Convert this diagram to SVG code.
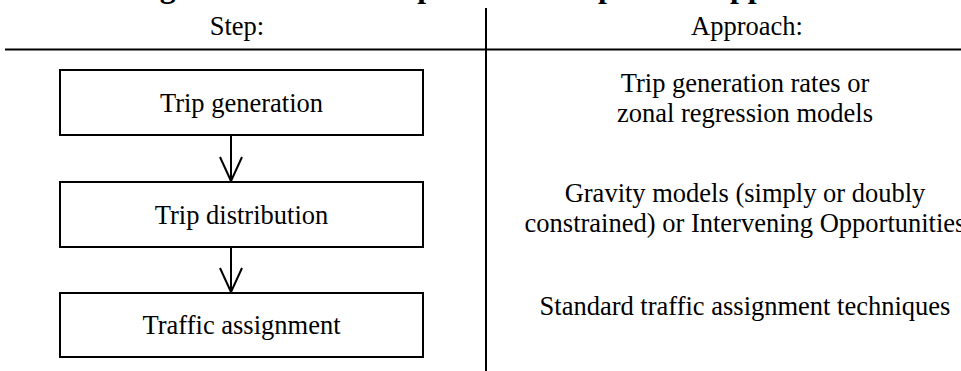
<svg xmlns="http://www.w3.org/2000/svg" width="961" height="371" viewBox="0 0 961 371">
<style>
text{font-family:"Liberation Serif","Times New Roman",serif;font-size:26.5px;fill:#000}
.title{font-weight:bold;font-size:31.7px}
.c{text-anchor:middle}
.box{fill:#fff;stroke:#000;stroke-width:2}
.rule{stroke:#000;stroke-width:2;fill:none}
.conn{stroke:#000;stroke-width:2;fill:none}
</style>
<defs>
<marker id="vhead" markerUnits="userSpaceOnUse" markerWidth="26" markerHeight="26" refX="24" refY="11" orient="auto" overflow="visible">
<path d="M0,0 L24,11 L0,22" fill="none" stroke="#000" stroke-width="2"/>
</marker>
</defs>
<rect width="961" height="371" fill="#fff"/>
<text class="title" x="131.6" y="-3">Figure 2.1: The transport three step model approach</text>
<g id="frame">
<line class="rule" x1="5" y1="49.5" x2="961" y2="49.5"/>
<line class="rule" x1="486" y1="8" x2="486" y2="371"/>
<text class="c" x="237" y="35">Step:</text>
<text class="c" x="747" y="35">Approach:</text>
</g>
<g id="connectors">
<line class="conn" x1="231" y1="135" x2="231" y2="181" marker-end="url(#vhead)"/>
<line class="conn" x1="231" y1="247" x2="231" y2="292" marker-end="url(#vhead)"/>
</g>
<g id="trip-generation">
<rect class="box" x="60" y="70" width="363" height="65"/>
<text class="c" x="241.5" y="112">Trip generation</text>
</g>
<g id="trip-distribution">
<rect class="box" x="60" y="182" width="363" height="65"/>
<text class="c" x="241.5" y="224">Trip distribution</text>
</g>
<g id="traffic-assignment">
<rect class="box" x="60" y="293" width="363" height="64"/>
<text class="c" x="241.5" y="334">Traffic assignment</text>
</g>
<g id="approach-generation">
<text class="c" x="745" y="92">Trip generation rates or</text>
<text class="c" x="745" y="122">zonal regression models</text>
</g>
<g id="approach-distribution">
<text class="c" x="745" y="202">Gravity models (simply or doubly</text>
<text class="c" x="745" y="232">constrained) or Intervening Opportunities</text>
</g>
<g id="approach-assignment">
<text class="c" x="745" y="315">Standard traffic assignment techniques</text>
</g>
</svg>
